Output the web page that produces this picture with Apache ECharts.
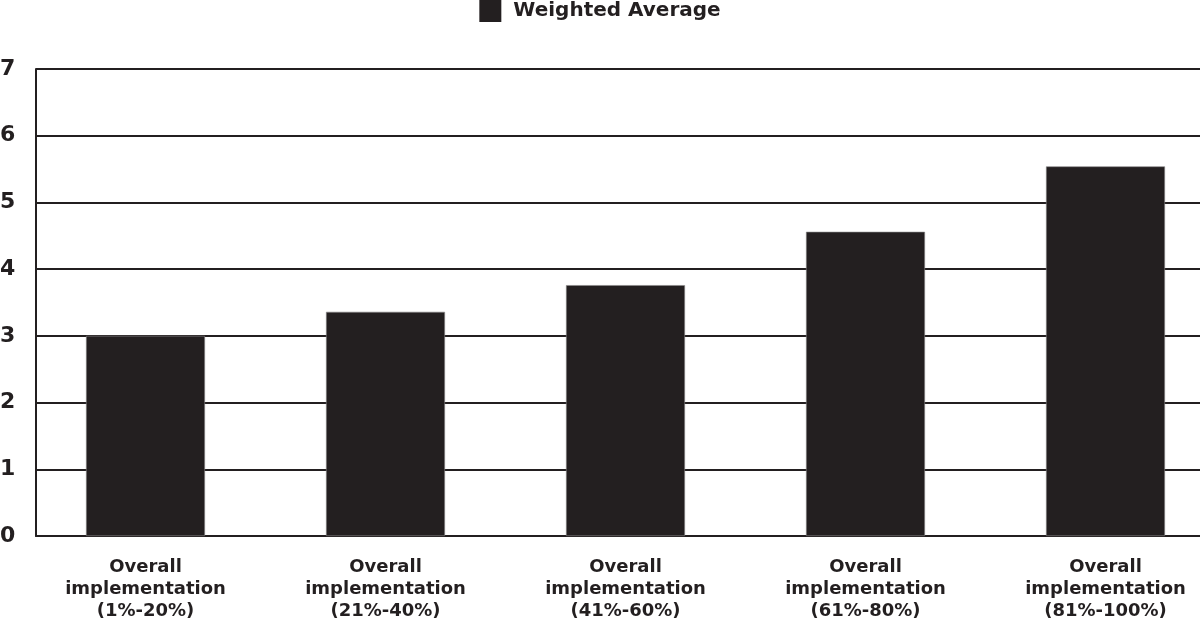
<!DOCTYPE html>
<html><head><meta charset="utf-8">
<script src="https://cdn.jsdelivr.net/npm/echarts@6/dist/echarts.min.js"></script>
<style>html,body{margin:0;padding:0;background:#fff}#c{width:1200px;height:622px}</style>
</head><body><div id="c"></div>
<script>
const categories = ["Overall\nimplementation\n(1%-20%)","Overall\nimplementation\n(21%-40%)","Overall\nimplementation\n(41%-60%)","Overall\nimplementation\n(61%-80%)","Overall\nimplementation\n(81%-100%)"];
const weightedAverage = [3.0, 3.36, 3.76, 4.56, 5.54];
const yTicks = [0,1,2,3,4,5,6,7];
const seriesName = "Weighted Average";
const ink = "#231f20";
const font = "DejaVu Sans";
const chart = echarts.init(document.getElementById('c'));
chart.setOption({
  animation:false,
  textStyle:{fontFamily:font},
  legend:{top:0,left:'center',padding:0,itemWidth:22,itemHeight:22,itemGap:10,icon:'rect',
    itemStyle:{borderWidth:0},
    data:[seriesName],
    textStyle:{fontFamily:font,fontWeight:'bold',fontSize:20,color:ink,padding:[0,0,0,7]}},
  grid:[
    {left:25.5,width:1200,top:69,bottom:86,outerBoundsMode:'none',containLabel:false},
    {left:36,right:0,top:69,bottom:86,outerBoundsMode:'none',containLabel:false}
  ],
  xAxis:[
    {gridIndex:0,type:'category',data:categories,
      axisLine:{show:false},axisTick:{show:false},
      axisLabel:{fontFamily:font,fontWeight:'bold',fontSize:18,color:ink,lineHeight:22,margin:20}},
    {gridIndex:1,type:'category',data:categories,
      axisLine:{show:true,lineStyle:{color:ink,width:2}},axisTick:{show:false},axisLabel:{show:false}}
  ],
  yAxis:[
    {gridIndex:0,type:'value',min:0,max:7,interval:1,show:false},
    {gridIndex:1,type:'value',min:yTicks[0],max:yTicks[yTicks.length-1],interval:1,
      axisLine:{show:true,lineStyle:{color:ink,width:2}},axisTick:{show:false},
      splitLine:{show:true,lineStyle:{color:ink,width:2}},
      axisLabel:{fontFamily:font,fontWeight:'bold',fontSize:22,color:ink,margin:36,align:'left',
        formatter:v=>String(v)}}
  ],
  series:[{name:seriesName,type:'bar',xAxisIndex:0,yAxisIndex:0,data:weightedAverage,
    barWidth:119,itemStyle:{color:ink,borderColor:'#8a8888',borderWidth:0.6},z:3}]
});
</script></body></html>
